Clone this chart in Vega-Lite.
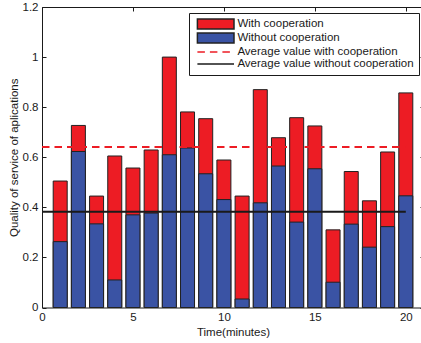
{
  "$schema": "https://vega.github.io/schema/vega-lite/v6.json",
  "width": 382,
  "height": 300.5,
  "autosize": {"type": "none"},
  "padding": {"left": 42, "top": 7, "right": 0, "bottom": 36},
  "background": "white",
  "config": {
    "view": {"stroke": null},
    "font": "Liberation Sans",
    "axis": {
      "grid": false,
      "labelFont": "Liberation Sans",
      "labelFontSize": 11.5,
      "labelColor": "#1a1a1a",
      "labelFlush": false,
      "titleFont": "Liberation Sans",
      "titleFontSize": 11.5,
      "titleFontWeight": "normal",
      "titleColor": "#1a1a1a",
      "domainColor": "#1a1a1a",
      "domainWidth": 1,
      "tickColor": "#1a1a1a",
      "tickSize": -4,
      "labelPadding": 8,
      "titlePadding": 3
    }
  },
  "datasets": {
    "bars": [
      {"t": 1, "series": "With cooperation", "value": 0.505},
      {"t": 2, "series": "With cooperation", "value": 0.727},
      {"t": 3, "series": "With cooperation", "value": 0.445},
      {"t": 4, "series": "With cooperation", "value": 0.605},
      {"t": 5, "series": "With cooperation", "value": 0.557},
      {"t": 6, "series": "With cooperation", "value": 0.629},
      {"t": 7, "series": "With cooperation", "value": 1.0},
      {"t": 8, "series": "With cooperation", "value": 0.781},
      {"t": 9, "series": "With cooperation", "value": 0.754},
      {"t": 10, "series": "With cooperation", "value": 0.589},
      {"t": 11, "series": "With cooperation", "value": 0.445},
      {"t": 12, "series": "With cooperation", "value": 0.87},
      {"t": 13, "series": "With cooperation", "value": 0.678},
      {"t": 14, "series": "With cooperation", "value": 0.758},
      {"t": 15, "series": "With cooperation", "value": 0.725},
      {"t": 16, "series": "With cooperation", "value": 0.31},
      {"t": 17, "series": "With cooperation", "value": 0.543},
      {"t": 18, "series": "With cooperation", "value": 0.426},
      {"t": 19, "series": "With cooperation", "value": 0.621},
      {"t": 20, "series": "With cooperation", "value": 0.857},
      {"t": 1, "series": "Without cooperation", "value": 0.263},
      {"t": 2, "series": "Without cooperation", "value": 0.623},
      {"t": 3, "series": "Without cooperation", "value": 0.334},
      {"t": 4, "series": "Without cooperation", "value": 0.11},
      {"t": 5, "series": "Without cooperation", "value": 0.37},
      {"t": 6, "series": "Without cooperation", "value": 0.377},
      {"t": 7, "series": "Without cooperation", "value": 0.61},
      {"t": 8, "series": "Without cooperation", "value": 0.637},
      {"t": 9, "series": "Without cooperation", "value": 0.534},
      {"t": 10, "series": "Without cooperation", "value": 0.431},
      {"t": 11, "series": "Without cooperation", "value": 0.034},
      {"t": 12, "series": "Without cooperation", "value": 0.418},
      {"t": 13, "series": "Without cooperation", "value": 0.565},
      {"t": 14, "series": "Without cooperation", "value": 0.341},
      {"t": 15, "series": "Without cooperation", "value": 0.554},
      {"t": 16, "series": "Without cooperation", "value": 0.101},
      {"t": 17, "series": "Without cooperation", "value": 0.333},
      {"t": 18, "series": "Without cooperation", "value": 0.241},
      {"t": 19, "series": "Without cooperation", "value": 0.323},
      {"t": 20, "series": "Without cooperation", "value": 0.446}
    ],
    "averages": [
      {"series": "Average value with cooperation", "value": 0.641},
      {"series": "Average value without cooperation", "value": 0.382}
    ]
  },
  "layer": [
    {
      "data": {"name": "bars"},
      "mark": {"type": "bar", "orient": "vertical", "size": 14, "stroke": "#222222"},
      "encoding": {
        "x": {
          "field": "t", "type": "quantitative",
          "scale": {"domain": [0, 21], "nice": false, "zero": false, "padding": 0},
          "axis": {"orient": "bottom", "values": [0, 5, 10, 15, 20], "format": "d", "title": "Time(minutes)"}
        },
        "y": {
          "field": "value", "type": "quantitative", "stack": null,
          "scale": {"domain": [0, 1.2], "nice": false},
          "axis": {"orient": "left", "values": [0, 0.2, 0.4, 0.6, 0.8, 1, 1.2], "format": "~g", "title": "Quality of service of aplications"}
        },
        "fill": {
          "field": "series", "type": "nominal",
          "scale": {
            "domain": ["With cooperation", "Without cooperation", "Average value with cooperation", "Average value without cooperation"],
            "range": ["#ED1C24", "#3A53A4", "transparent", "transparent"]
          },
          "legend": {
            "title": null,
            "orient": "none",
            "legendX": 147,
            "legendY": 6,
            "strokeColor": "#1a1a1a",
            "fillColor": "white",
            "padding": 5,
            "symbolSize": 100,
            "symbolOffset": 2.4,
            "symbolStrokeWidth": 1.5,
            "symbolOpacity": 1,
            "labelOffset": 29,
            "labelFont": "Liberation Sans",
            "labelFontSize": 11.5,
            "labelColor": "#1a1a1a",
            "labelLimit": 400,
            "rowPadding": -2
          }
        }
      }
    },
    {
      "data": {"name": "averages"},
      "mark": {"type": "rule", "strokeWidth": 2},
      "encoding": {
        "x": {"datum": 0, "type": "quantitative", "axis": {"orient": "top", "labels": false, "title": null, "values": [0, 5, 10, 15, 20]}},
        "x2": {"datum": 20},
        "y": {"field": "value", "type": "quantitative", "axis": {"orient": "right", "labels": false, "title": null, "values": [0, 0.2, 0.4, 0.6, 0.8, 1, 1.2]}},
        "stroke": {
          "field": "series", "type": "nominal",
          "scale": {
            "domain": ["With cooperation", "Without cooperation", "Average value with cooperation", "Average value without cooperation"],
            "range": ["#222222", "#222222", "#ED1C24", "#1a1a1a"]
          }
        },
        "strokeDash": {
          "field": "series", "type": "nominal",
          "scale": {
            "domain": ["With cooperation", "Without cooperation", "Average value with cooperation", "Average value without cooperation"],
            "range": [[1, 0], [1, 0], [7.5, 5], [1, 0]]
          }
        }
      }
    },
    {
      "data": {"name": "averages"},
      "transform": [{"filter": "false"}],
      "mark": {"type": "point"},
      "encoding": {
        "shape": {
          "field": "series", "type": "nominal",
          "scale": {
            "domain": ["With cooperation", "Without cooperation", "Average value with cooperation", "Average value without cooperation"],
            "range": ["M-1,-1H6.32V1H-1Z", "M-1,-1H6.32V1H-1Z", "M-1,0H6.32", "M-1,0H6.32"]
          }
        }
      }
    }
  ],
  "resolve": {"axis": {"x": "independent", "y": "independent"}}
}
